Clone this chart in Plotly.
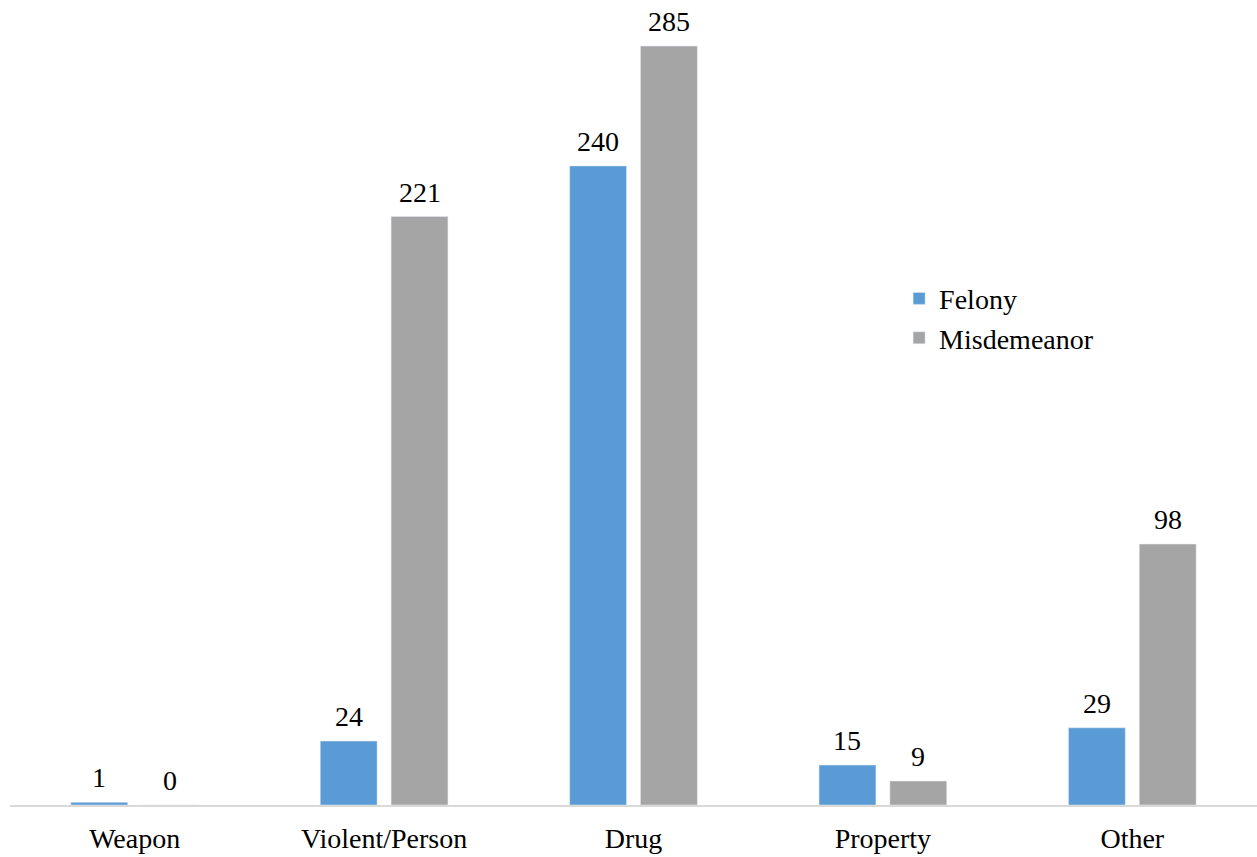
import plotly.graph_objects as go

categories = ["Weapon", "Violent/Person", "Drug", "Property", "Other"]
felony = [1, 24, 240, 15, 29]
misdemeanor = [0, 221, 285, 9, 98]

FONT = "Liberation Serif, Times New Roman, serif"
FS = 28

fig = go.Figure()
fig.add_trace(go.Bar(name="Felony", x=categories, y=felony, marker_color="#5b9bd5"))
fig.add_trace(go.Bar(name="Misdemeanor", x=categories, y=misdemeanor, marker_color="#a5a5a5"))

# value labels above each bar, offset to the bar's slot within its group
for series, shift in ((felony, -35.5), (misdemeanor, 35.5)):
    for cat, val in zip(categories, series):
        fig.add_annotation(
            x=cat, y=val, xref="x", yref="y", text=str(val),
            showarrow=False, xshift=shift, yshift=7,
            yanchor="bottom", font=dict(size=FS, family=FONT, color="black"),
        )

fig.update_layout(
    width=1257, height=857,
    margin=dict(l=10, r=0, t=0, b=52),
    plot_bgcolor="white", paper_bgcolor="white",
    barmode="group", bargap=0.432, bargroupgap=0.197,
    font=dict(family=FONT, size=FS, color="black"),
    xaxis=dict(showline=True, linecolor="#d9d9d9", linewidth=2,
               ticks="", showgrid=False, tickfont=dict(size=FS, family=FONT),
               ticklabelstandoff=7),
    yaxis=dict(visible=False, range=[0, 302.3], showgrid=False),
    legend=dict(x=0.713, y=0.66, xanchor="left", yanchor="top",
                font=dict(size=FS, family=FONT), bgcolor="rgba(0,0,0,0)",
                itemwidth=30, tracegroupgap=0),
    showlegend=True,
)

fig.write_html("out.html")
